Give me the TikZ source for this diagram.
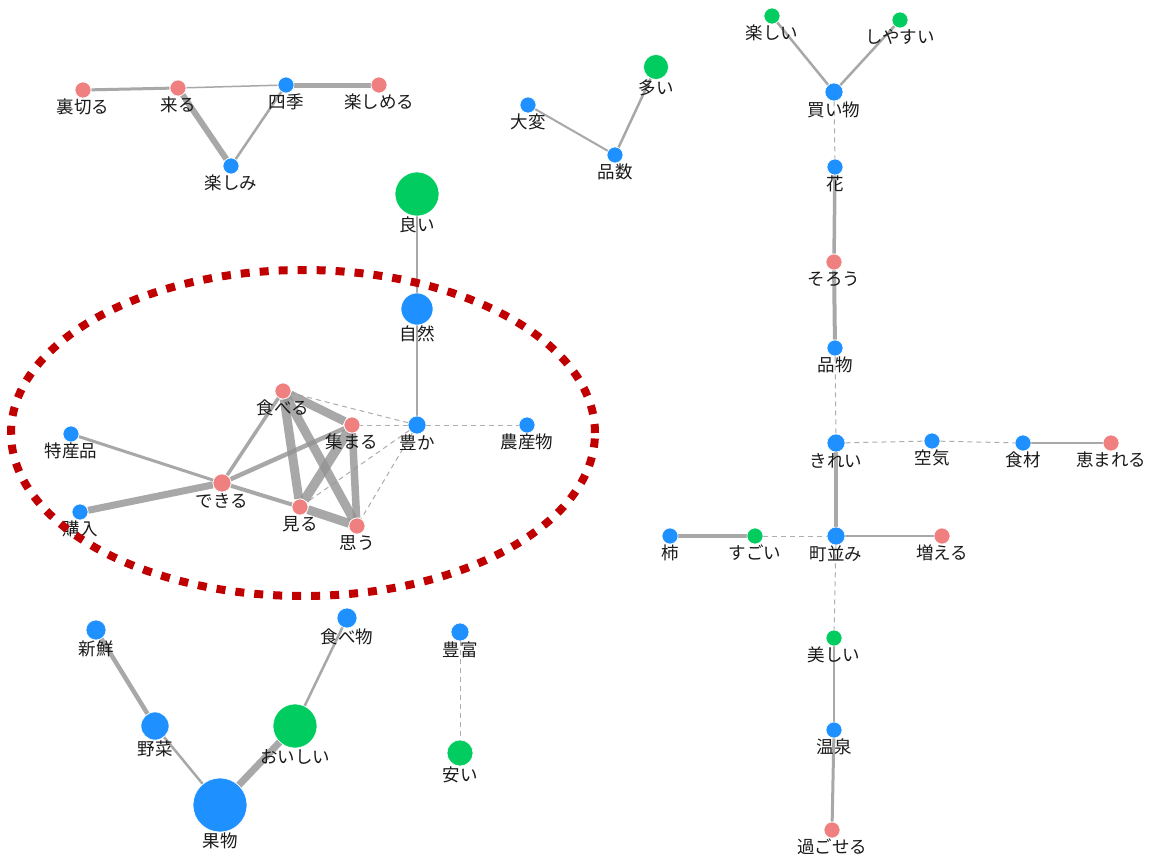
\documentclass[tikz,border=0pt]{standalone}
\usepackage{fontspec}
\setmainfont{Noto Sans CJK JP}
\usetikzlibrary{calc}
\definecolor{nblue}{HTML}{1E90FF}
\definecolor{ngreen}{HTML}{00CC5F}
\definecolor{npink}{HTML}{F08080}
\definecolor{ered}{HTML}{C00000}
\definecolor{egray}{HTML}{939393}
\definecolor{dgray}{HTML}{ADADAD}
\definecolor{txt}{HTML}{1A1A1A}
\pgfdeclarelayer{bg}
\pgfdeclarelayer{edges}
\pgfdeclarelayer{labels}
\pgfdeclarelayer{top}
\pgfsetlayers{bg,edges,main,labels,top}
\tikzset{
 vtxs/.style={circle, inner sep=0pt, draw=white, line width=0.6pt},
 lab/.style={inner sep=0pt, text=txt, font=\fontsize{17.5}{19}\selectfont},
 edge/.style={draw=egray, draw opacity=0.8},
 dedge/.style={draw=dgray, line width=1pt, dash pattern=on 5pt off 4pt},
}
\newcommand\vtx[6]{%
 \node[vtxs, fill=#5, minimum size=#4] (#1) at (#2,#3) {};
 \begin{pgfonlayer}{labels}
 \node[lab] (l-#1) at ([yshift=-8.5pt]#1.south) {#6};
 \end{pgfonlayer}}
\newcommand\edg[3]{\begin{pgfonlayer}{edges}\draw[edge, line width=#3pt] (#1) -- (#2);\end{pgfonlayer}}
\newcommand\dedg[2]{\begin{pgfonlayer}{edges}\draw[dedge] (#1) -- (#2);\end{pgfonlayer}}
\begin{document}
\begin{tikzpicture}[x=1pt,y=-1pt]
\begin{pgfonlayer}{bg}
\fill[white] (0,0) rectangle (1152,854);
\end{pgfonlayer}
\useasboundingbox (0,0) rectangle (1152,854);
% top-left
\vtx{uragiru}{83}{90}{16pt}{npink}{裏切る}
\vtx{kuru}{178}{88}{16pt}{npink}{来る}
\vtx{shiki}{286}{85}{16pt}{nblue}{四季}
\vtx{tanoshimeru}{379}{85}{16pt}{npink}{楽しめる}
\vtx{tanoshimi}{231}{166}{16pt}{nblue}{楽しみ}
\edg{uragiru}{kuru}{3}
\edg{kuru}{shiki}{1.5}
\edg{shiki}{tanoshimeru}{5}
\edg{kuru}{tanoshimi}{6}
\edg{shiki}{tanoshimi}{2.5}
% top-middle
\vtx{taihen}{528}{105}{16pt}{nblue}{大変}
\vtx{hinkazu}{615}{155}{16pt}{nblue}{品数}
\vtx{ooi}{656}{67}{25pt}{ngreen}{多い}
\edg{taihen}{hinkazu}{2}
\edg{hinkazu}{ooi}{2.5}
% right column
\vtx{tanoshii}{772}{16}{16pt}{ngreen}{楽しい}
\vtx{shiyasui}{900}{20}{16pt}{ngreen}{しやすい}
\vtx{kaimono}{834}{92}{18pt}{nblue}{買い物}
\vtx{hana}{835}{167}{16pt}{nblue}{花}
\vtx{sorou}{834}{262}{16pt}{npink}{そろう}
\vtx{shinamono}{835}{348}{16pt}{nblue}{品物}
\vtx{kirei}{836}{443}{18pt}{nblue}{きれい}
\vtx{kuuki}{932}{441}{16pt}{nblue}{空気}
\vtx{shokuzai}{1023}{443}{16pt}{nblue}{食材}
\vtx{megumareru}{1111}{443}{16pt}{npink}{恵まれる}
\vtx{kaki}{670}{536}{16pt}{nblue}{柿}
\vtx{sugoi}{755}{536}{16pt}{ngreen}{すごい}
\vtx{machinami}{836}{536}{18pt}{nblue}{町並み}
\vtx{fueru}{942}{536}{16pt}{npink}{増える}
\vtx{utsukushii}{834}{638}{16pt}{ngreen}{美しい}
\vtx{onsen}{834}{730}{16pt}{nblue}{温泉}
\vtx{sugoseru}{832}{830}{16pt}{npink}{過ごせる}
\edg{tanoshii}{kaimono}{2.5}
\edg{shiyasui}{kaimono}{2.5}
\dedg{kaimono}{hana}
\edg{hana}{sorou}{3.5}
\edg{sorou}{shinamono}{4}
\dedg{shinamono}{kirei}
\dedg{kirei}{kuuki}
\dedg{kuuki}{shokuzai}
\edg{shokuzai}{megumareru}{2}
\edg{kirei}{machinami}{3.5}
\edg{kaki}{sugoi}{4}
\dedg{sugoi}{machinami}
\edg{machinami}{fueru}{2}
\dedg{machinami}{utsukushii}
\edg{utsukushii}{onsen}{1.5}
\edg{onsen}{sugoseru}{3}
% middle cluster
\vtx{yoi}{417}{194}{44pt}{ngreen}{良い}
\vtx{shizen}{417}{309}{32pt}{nblue}{自然}
\vtx{yutaka}{417}{425}{18pt}{nblue}{豊か}
\vtx{nousanbutsu}{527}{425}{16pt}{nblue}{農産物}
\vtx{taberu}{283}{391}{16pt}{npink}{食べる}
\vtx{atsumaru}{352}{425}{16pt}{npink}{集まる}
\vtx{tokusanhin}{71}{434}{16pt}{nblue}{特産品}
\vtx{dekiru}{222}{483}{18pt}{npink}{できる}
\vtx{kounyuu}{80}{512}{16pt}{nblue}{購入}
\vtx{miru}{300}{507}{16pt}{npink}{見る}
\vtx{omou}{357}{526}{16pt}{npink}{思う}
\edg{yoi}{shizen}{2}
\edg{shizen}{yutaka}{2.5}
\dedg{yutaka}{nousanbutsu}
\dedg{yutaka}{atsumaru}
\dedg{yutaka}{taberu}
\dedg{yutaka}{miru}
\dedg{yutaka}{omou}
\edg{taberu}{atsumaru}{8.5}
\edg{taberu}{miru}{9}
\edg{taberu}{omou}{9}
\edg{taberu}{dekiru}{3.5}
\edg{atsumaru}{dekiru}{4.5}
\edg{atsumaru}{miru}{9.5}
\edg{atsumaru}{omou}{7.5}
\edg{tokusanhin}{dekiru}{3}
\edg{kounyuu}{dekiru}{7}
\edg{dekiru}{miru}{4}
\edg{miru}{omou}{9}
% bottom-left
\vtx{shinsen}{96}{630}{20pt}{nblue}{新鮮}
\vtx{yasai}{155}{726}{28pt}{nblue}{野菜}
\vtx{kudamono}{220}{805}{54pt}{nblue}{果物}
\vtx{oishii}{295}{726}{44pt}{ngreen}{おいしい}
\vtx{tabemono}{347}{618}{20pt}{nblue}{食べ物}
\vtx{houfu}{460}{632}{18pt}{nblue}{豊富}
\vtx{yasui}{460}{753}{26pt}{ngreen}{安い}
\edg{shinsen}{yasai}{4.5}
\edg{yasai}{kudamono}{2.5}
\edg{kudamono}{oishii}{7}
\edg{oishii}{tabemono}{2.5}
\dedg{houfu}{yasui}
% highlight ellipse
\begin{pgfonlayer}{top}
\draw[ered, line width=8pt, dash pattern=on 9pt off 10pt] (303,433) ellipse [x radius=292pt, y radius=163pt];
\end{pgfonlayer}
\end{tikzpicture}
\end{document}
